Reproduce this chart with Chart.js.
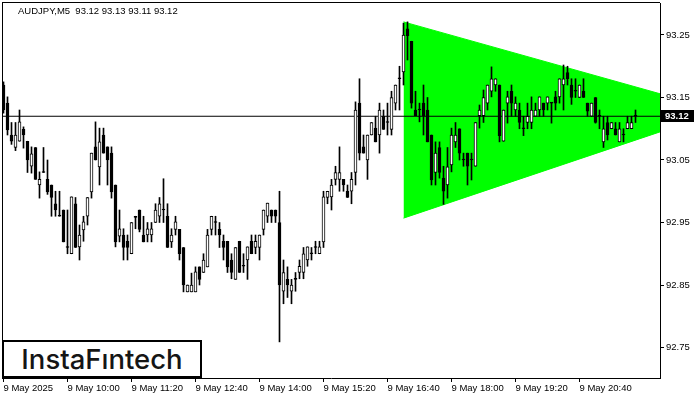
<!DOCTYPE html>
<html lang="en">
<head>
<meta charset="UTF-8">
<title>AUDJPY, M5</title>
<script src="https://cdn.jsdelivr.net/npm/chart.js"></script>
<style>
    html, body { margin: 0; padding: 0; background: #fff; }
    #wrap { position: relative; width: 700px; height: 400px; }
    #header {
        position: absolute; left: 18px; top: 5px;
        font: 9.5px "Liberation Sans", Arial, sans-serif; color: #000; white-space: pre;
    }
    #logo {
        position: absolute; left: 2px; top: 340px; width: 196px; height: 34px;
        border: 2px solid #000; background: #fff; color: #151515;
        font: 500 27.5px Inter, sans-serif; line-height: 34px; text-align: center;
    }
</style>
</head>
<body>
<div id="wrap">
    <canvas id="chart" width="700" height="400"></canvas>
    <div id="header">AUDJPY,M5  93.12 93.13 93.11 93.12</div>
    <div id="logo">InstaFıntech</div>
</div>
<script>
// M5 candles from 08:40 to 21:50
var opens = [
    93.17, 93.141, 93.09, 93.07, 93.08, 93.099, 93.08, 93.04, 93.07, 93.01,
    93.03, 93.019, 93.01, 92.98, 92.96, 92.97, 92.91, 92.90, 92.98, 92.911,
    92.938, 92.96, 92.999, 93.071, 93.039, 93.09, 93.071, 93.061, 93.01, 92.928,
    92.93, 92.92, 92.90, 92.96, 92.97, 92.93, 92.93, 92.93, 92.95, 92.96,
    92.97, 92.96, 92.919, 92.939, 92.939, 92.91, 92.839, 92.839, 92.839, 92.879,
    92.87, 92.879, 92.939, 92.95, 92.939, 92.92, 92.92, 92.89, 92.859, 92.92,
    92.88, 92.89, 92.92, 92.91, 92.91, 92.939, 92.96, 92.97, 92.97, 92.95,
    92.84, 92.859, 92.84, 92.859, 92.87, 92.87, 92.89, 92.90, 92.91, 92.90,
    92.919, 92.99, 92.991, 93.019, 93.019, 93.019, 93.0, 93.0, 93.03, 93.141,
    93.071, 93.05, 93.09, 93.101, 93.09, 93.12, 93.11, 93.099, 93.141, 93.18,
    93.191, 93.26, 93.24, 93.13, 93.13, 93.141, 93.13, 93.09, 93.03, 93.07,
    93.021, 93.01, 93.042, 93.079, 93.10, 93.05, 93.061, 93.05, 93.04, 93.121,
    93.121, 93.141, 93.16, 93.17, 93.17, 93.08, 93.141, 93.16, 93.13, 93.13,
    93.10, 93.11, 93.11, 93.12, 93.13, 93.141, 93.141, 93.141, 93.151, 93.151,
    93.17, 93.19, 93.17, 93.16, 93.15, 93.16, 93.141, 93.12, 93.15, 93.12,
    93.079, 93.11, 93.10, 93.10, 93.079, 93.09, 93.10, 93.10, 93.12
];
var highs = [
    93.175, 93.151, 93.11, 93.11, 93.13, 93.103, 93.08, 93.071, 93.07, 93.031,
    93.07, 93.05, 93.01, 93.0, 93.0, 92.97, 92.97, 92.991, 92.99, 92.946,
    92.96, 92.99, 93.061, 93.111, 93.101, 93.101, 93.071, 93.071, 93.01, 92.97,
    92.94, 92.93, 92.95, 92.96, 92.97, 92.96, 92.95, 92.95, 92.98, 92.99,
    93.02, 92.98, 92.94, 92.96, 92.939, 92.91, 92.85, 92.869, 92.879, 92.879,
    92.90, 92.939, 92.96, 92.96, 92.95, 92.93, 92.92, 92.90, 92.91, 92.92,
    92.90, 92.911, 92.93, 92.93, 92.93, 92.97, 92.981, 92.97, 92.97, 93.0,
    92.89, 92.879, 92.859, 92.87, 92.89, 92.91, 92.911, 92.91, 92.92, 92.92,
    93.0, 93.0, 93.019, 93.04, 93.071, 93.019, 93.01, 93.03, 93.143, 93.18,
    93.09, 93.09, 93.11, 93.12, 93.141, 93.13, 93.141, 93.16, 93.17, 93.20,
    93.269, 93.271, 93.24, 93.16, 93.141, 93.17, 93.15, 93.09, 93.079, 93.079,
    93.04, 93.07, 93.101, 93.11, 93.10, 93.061, 93.061, 93.061, 93.11, 93.138,
    93.162, 93.17, 93.199, 93.18, 93.17, 93.13, 93.16, 93.17, 93.151, 93.141,
    93.12, 93.141, 93.151, 93.141, 93.151, 93.141, 93.151, 93.141, 93.16, 93.18,
    93.202, 93.20, 93.18, 93.18, 93.17, 93.18, 93.141, 93.141, 93.15, 93.13,
    93.12, 93.12, 93.11, 93.11, 93.11, 93.10, 93.12, 93.12, 93.13
];
var lows = [
    93.125, 93.09, 93.075, 93.065, 93.08, 93.069, 93.03, 93.029, 93.019, 92.989,
    93.03, 92.995, 92.96, 92.96, 92.96, 92.919, 92.90, 92.90, 92.91, 92.89,
    92.92, 92.946, 92.989, 93.05, 93.01, 93.061, 93.01, 92.989, 92.911, 92.919,
    92.89, 92.89, 92.90, 92.94, 92.935, 92.919, 92.919, 92.919, 92.95, 92.95,
    92.95, 92.91, 92.91, 92.93, 92.89, 92.839, 92.839, 92.839, 92.839, 92.85,
    92.87, 92.879, 92.93, 92.93, 92.91, 92.89, 92.87, 92.86, 92.859, 92.87,
    92.87, 92.859, 92.90, 92.90, 92.89, 92.93, 92.95, 92.95, 92.95, 92.759,
    92.82, 92.83, 92.82, 92.84, 92.86, 92.86, 92.88, 92.89, 92.90, 92.90,
    92.91, 92.98, 92.97, 93.01, 93.0, 93.0, 92.99, 92.98, 93.01, 93.05,
    93.061, 93.019, 93.09, 93.079, 93.061, 93.099, 93.09, 93.09, 93.13, 93.13,
    93.17, 93.21, 93.133, 93.121, 93.111, 93.09, 93.079, 93.01, 93.01, 93.021,
    92.979, 92.989, 93.031, 93.07, 93.05, 93.04, 93.01, 93.018, 93.04, 93.101,
    93.11, 93.13, 93.151, 93.16, 93.079, 93.08, 93.109, 93.12, 93.12, 93.10,
    93.089, 93.10, 93.10, 93.12, 93.12, 93.12, 93.13, 93.109, 93.13, 93.141,
    93.13, 93.17, 93.139, 93.15, 93.15, 93.15, 93.12, 93.12, 93.109, 93.10,
    93.07, 93.082, 93.10, 93.09, 93.079, 93.079, 93.10, 93.10, 93.11
];
var closes = [
    93.13, 93.098, 93.08, 93.09, 93.111, 93.09, 93.05, 93.06, 93.019, 93.019,
    93.03, 92.999, 92.99, 92.97, 92.96, 92.919, 92.91, 92.991, 92.91, 92.93,
    92.951, 92.99, 93.061, 93.05, 93.079, 93.061, 93.05, 92.999, 92.919, 92.94,
    92.91, 92.91, 92.95, 92.958, 92.939, 92.919, 92.94, 92.94, 92.97, 92.98,
    92.97, 92.91, 92.93, 92.951, 92.90, 92.85, 92.85, 92.85, 92.871, 92.859,
    92.89, 92.93, 92.96, 92.95, 92.93, 92.91, 92.879, 92.87, 92.91, 92.87,
    92.88, 92.911, 92.90, 92.92, 92.93, 92.97, 92.981, 92.96, 92.96, 92.85,
    92.87, 92.85, 92.85, 92.859, 92.88, 92.90, 92.911, 92.90, 92.91, 92.911,
    92.991, 93.0, 93.01, 93.03, 93.03, 93.01, 92.99, 93.019, 93.13, 93.061,
    93.061, 93.09, 93.11, 93.079, 93.13, 93.099, 93.11, 93.15, 93.17, 93.18,
    93.25, 93.249, 93.141, 93.121, 93.13, 93.121, 93.079, 93.018, 93.061, 93.03,
    93.0, 93.039, 93.09, 93.09, 93.061, 93.05, 93.04, 93.05, 93.11, 93.13,
    93.15, 93.17, 93.18, 93.18, 93.089, 93.13, 93.151, 93.141, 93.141, 93.11,
    93.10, 93.12, 93.13, 93.13, 93.151, 93.13, 93.151, 93.141, 93.141, 93.18,
    93.18, 93.18, 93.15, 93.16, 93.17, 93.15, 93.128, 93.141, 93.11, 93.12,
    93.10, 93.09, 93.11, 93.09, 93.10, 93.09, 93.11, 93.11, 93.12
];
var timeLabels = ['9 May 2025', '9 May 10:00', '9 May 11:20', '9 May 12:40', '9 May 14:00',
                  '9 May 15:20', '9 May 16:40', '9 May 18:00', '9 May 19:20', '9 May 20:40'];
var barsPerLabel = 16;
var priceTicks = [92.75, 92.85, 92.95, 93.05, 93.15, 93.25];
// symmetrical triangle pattern: upper edge and lower edge
var triUpperX = [100, 164.125];
var triUpperY = [93.271, 93.156];
var triLowerX = [100, 164.125];
var triLowerY = [92.957, 93.095];

var n = closes.length;
var last = closes[n - 1];
var xMin = -0.375, xMax = 164.125;

var wicks = [], bodies = [], bodyColors = [];
for (var i = 0; i < n; i++) {
    wicks.push({ x: i, y: [lows[i], highs[i]] });
    bodies.push({ x: i, y: [opens[i], closes[i]] });
    bodyColors.push(closes[i] > opens[i] ? '#ffffff' : '#000000');
}
var upperPts = triUpperX.map(function (x, k) { return { x: x, y: triUpperY[k] }; });
var lowerPts = triLowerX.map(function (x, k) { return { x: x, y: triLowerY[k] }; });

var axisFont = { family: '"Liberation Sans", Arial, sans-serif', size: 9.5 };

var framePlugin = {
    id: 'frame',
    afterDraw: function (chart) {
        var ctx = chart.ctx, a = chart.chartArea, y = chart.scales.y;
        ctx.save();
        ctx.fillStyle = '#000';
        ctx.fillRect(a.left, a.top - 1, 1, a.bottom - a.top + 1);
        ctx.fillRect(a.left, a.top - 1, a.right - a.left, 1);
        // current price tag
        var py = Math.round(y.getPixelForValue(last));
        ctx.fillRect(a.right + 1, py - 6, 33, 12);
        ctx.fillStyle = '#fff';
        ctx.font = 'bold 9.5px "Liberation Sans", Arial, sans-serif';
        ctx.textBaseline = 'middle';
        ctx.fillText(last.toFixed(2), a.right + 5, py + 0.5);
        ctx.restore();
    }
};

new Chart(document.getElementById('chart').getContext('2d'), {
    type: 'bar',
    data: {
        datasets: [
            { type: 'line', data: upperPts, borderColor: '#00ff00', borderWidth: 1,
              backgroundColor: '#00ff00', fill: '+1', pointRadius: 0, order: 5 },
            { type: 'line', data: lowerPts, borderColor: '#00ff00', borderWidth: 1,
              pointRadius: 0, fill: false, order: 5 },
            { type: 'line', data: [{ x: xMin, y: last }, { x: xMax, y: last }],
              borderColor: '#000', borderWidth: 1, pointRadius: 0, fill: false, order: 4 },
            { data: wicks, backgroundColor: '#000', barThickness: 1, grouped: false,
              borderWidth: 0, order: 2 },
            { data: bodies, backgroundColor: bodyColors, borderColor: '#000', borderWidth: 1,
              borderSkipped: false, barThickness: 3, minBarLength: 1, grouped: false, order: 1 }
        ]
    },
    options: {
        responsive: false,
        animation: false,
        layout: { padding: { left: 2, top: 3, right: 0, bottom: 0 } },
        plugins: { legend: { display: false }, tooltip: { enabled: false } },
        scales: {
            x: {
                type: 'linear', min: xMin, max: xMax, offset: false,
                afterBuildTicks: function (s) {
                    s.ticks = timeLabels.map(function (t, k) { return { value: k * barsPerLabel }; });
                },
                afterFit: function (s) { s.height = 22; s.paddingLeft = 0; s.paddingRight = 0; },
                ticks: {
                    autoSkip: false, maxRotation: 0, minRotation: 0, align: 'start', padding: 1,
                    color: '#000', font: axisFont,
                    callback: function (v, idx) { return timeLabels[idx]; }
                },
                grid: { display: true, offset: false, drawOnChartArea: false, drawTicks: true,
                        tickLength: 4, color: '#000' },
                border: { display: true, color: '#000' }
            },
            y: {
                type: 'linear', position: 'right', min: 92.7012, max: 93.3012,
                afterBuildTicks: function (s) {
                    s.ticks = priceTicks.map(function (v) { return { value: v }; });
                },
                afterFit: function (s) { s.width = 40; s.paddingTop = 0; s.paddingBottom = 0; },
                ticks: { padding: 2, color: '#000', font: axisFont,
                         callback: function (v) { return v.toFixed(2); } },
                grid: { display: true, drawOnChartArea: false, drawTicks: true,
                        tickLength: 4, color: '#000' },
                border: { display: true, color: '#000' }
            }
        }
    },
    plugins: [framePlugin]
});
</script>
</body>
</html>
